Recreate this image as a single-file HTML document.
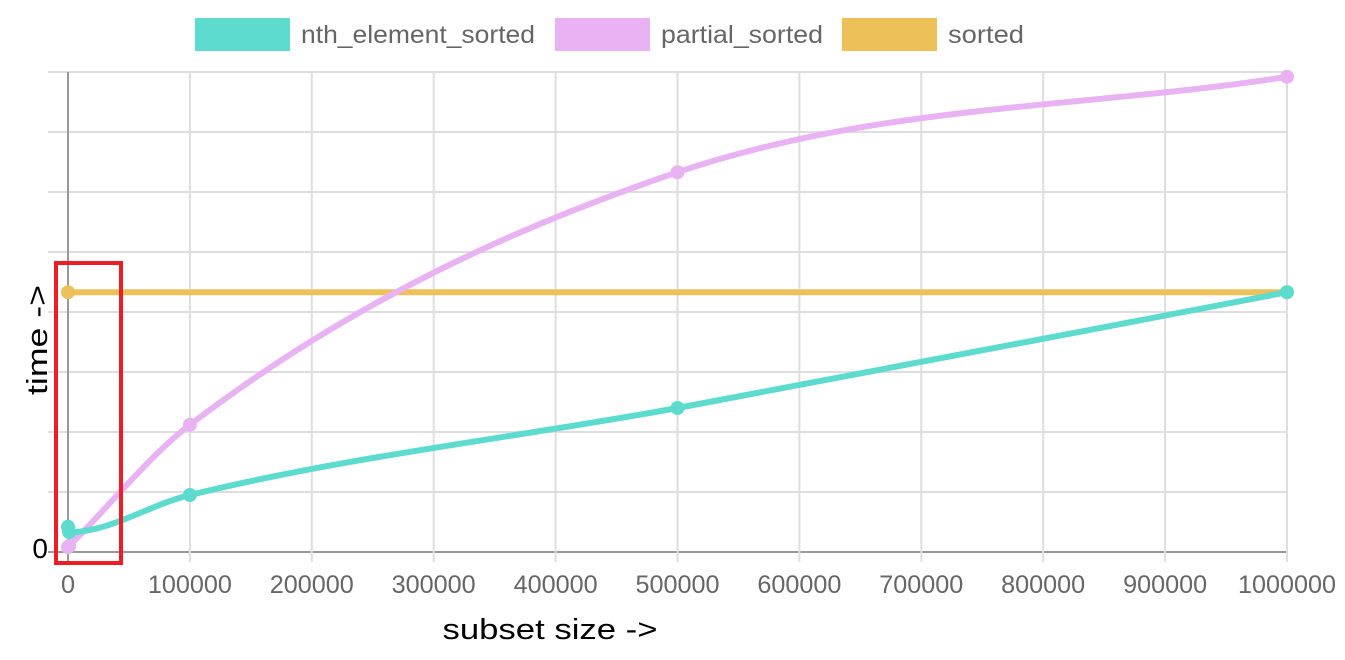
<!DOCTYPE html>
<html><head><meta charset="utf-8"><style>
html,body{margin:0;padding:0;background:#fff;width:1345px;height:660px;overflow:hidden}
svg{display:block}
text{font-family:"Liberation Sans",sans-serif}
</style></head><body>
<svg id="c" width="1345" height="660"></svg>
<script>
const xValues=[0,1000,100000,500000,1000000];
const nthValues=[0.42,0.33,0.95,2.4,4.33];
const partialValues=[0.08,0.1,2.12,6.33,7.92];
const sortedValues=[4.33,4.33,4.33,4.33,4.33];
const xTicks=[0,100000,200000,300000,400000,500000,600000,700000,800000,900000,1000000];
const yGrid=[0,1,2,3,4,5,6,7,8];
const L=68,R=1287,T=72,B=552;
const sx=v=>L+(v/1000000)*(R-L);
const sy=v=>B-(v/8)*(B-T);
const svg=document.getElementById('c');
const NS='http://www.w3.org/2000/svg';
function mk(tag,at,parent){const e=document.createElementNS(NS,tag);for(const k in at)e.setAttribute(k,at[k]);(parent||svg).appendChild(e);return e;}
yGrid.forEach(v=>{const l=mk('line',{x1:48,x2:R,y1:sy(v),y2:sy(v),stroke:v===0?'#999':'#dedede','stroke-width':2});

});
xTicks.forEach(v=>{const l=mk('line',{x1:sx(v),x2:sx(v),y1:T,y2:B+10,stroke:v===0?'#999':'#dedede','stroke-width':2});


const s=String(v);
const t=mk('text',{x:sx(v),y:593,'text-anchor':'middle','font-size':25,fill:'#666',textLength:s.length*14,lengthAdjust:'spacingAndGlyphs'});t.textContent=s;

});
const y0=mk('text',{x:48,y:558,'text-anchor':'end','font-size':28,fill:'#000'});y0.textContent='0';


function path(xs,ys){const n=xs.length,px=xs.map(sx),py=ys.map(sy);const d=[],m=[];
for(let i=0;i<n-1;i++)d.push((py[i+1]-py[i])/(px[i+1]-px[i]));
for(let i=0;i<n;i++){if(i===0)m.push(d[0]);else if(i===n-1)m.push(d[n-2]);else m.push(d[i-1]*d[i]<=0?0:(d[i-1]+d[i])/2);}
for(let i=0;i<n-1;i++){if(d[i]===0){m[i]=m[i+1]=0;continue;}const a=m[i]/d[i],b=m[i+1]/d[i],s=a*a+b*b;if(s>9){const t=3/Math.sqrt(s);m[i]=t*a*d[i];m[i+1]=t*b*d[i];}}
let p='M'+px[0]+','+py[0];for(let i=0;i<n-1;i++){const h=(px[i+1]-px[i])/3;p+=' C'+(px[i]+h)+','+(py[i]+m[i]*h)+' '+(px[i+1]-h)+','+(py[i+1]-m[i+1]*h)+' '+px[i+1]+','+py[i+1];}return p;}
function series(vals,col,name,pts){const g=mk('g',{});


const p=mk('path',{d:path(xValues,vals),fill:'none',stroke:col,'stroke-width':6},g);


vals.forEach((v,i)=>{if(pts&&!pts.includes(i))return;const c=mk('circle',{cx:sx(xValues[i]),cy:sy(v),r:7,fill:col},g);

});}
series(sortedValues,'#eec05a','sorted',[0,4]);
series(partialValues,'#e9b3f3','partial-sorted');
series(nthValues,'#5cdbce','nth-element-sorted');
const rb=mk('rect',{x:56,y:263,width:65,height:300,fill:'none',stroke:'#ee1c25','stroke-width':4});


[['#5cdbce','nth_element_sorted',195,234],['#e9b3f3','partial_sorted',555,162],['#eec05a','sorted',842,76]].forEach(([c,t,x,w])=>{
const r=mk('rect',{x:x,y:18,width:95,height:33,fill:c});


const tx=mk('text',{x:x+106,y:43,'font-size':25,fill:'#666',textLength:w,lengthAdjust:'spacingAndGlyphs'});tx.textContent=t;

});
const xt=mk('text',{x:550,y:639,'text-anchor':'middle','font-size':29,fill:'#000',textLength:215,lengthAdjust:'spacingAndGlyphs'});xt.textContent='subset size ->';


const yt=mk('text',{x:0,y:0,'text-anchor':'middle','font-size':29,fill:'#000',textLength:110,lengthAdjust:'spacingAndGlyphs',transform:'translate(47,340) rotate(-90)'});yt.textContent='time ->';


</script>
</body></html>
